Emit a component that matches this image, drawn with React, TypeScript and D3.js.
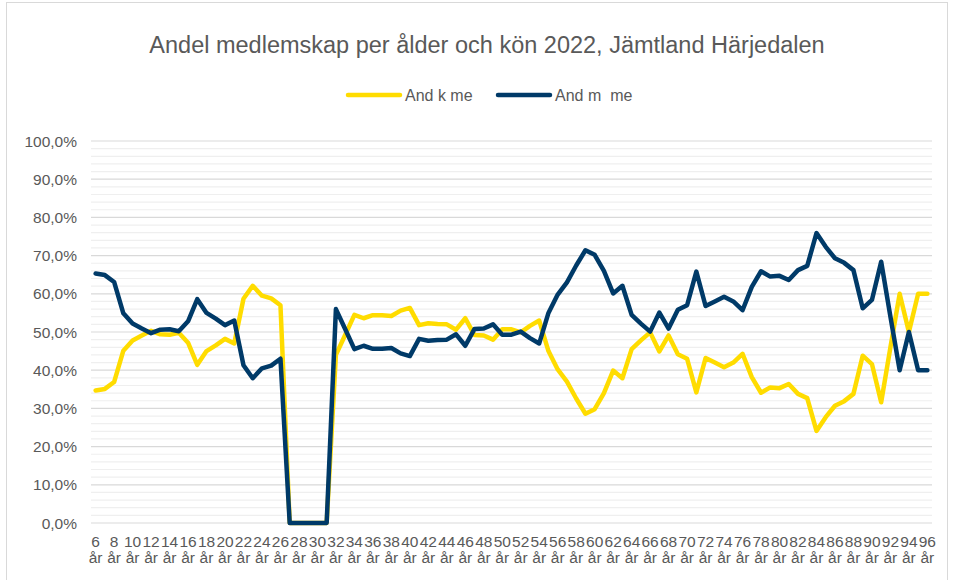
import React from "react";
import * as d3 from "d3";

const ages: number[] = d3.range(6, 97);

const women: number[] = [
  34.7, 35.1, 36.9, 45.1, 47.8, 49.1, 50.3, 49.4, 49.3, 49.8,
  47.2, 41.4, 45.0, 46.5, 48.2, 47.0, 58.7, 62.1, 59.5, 58.8,
  57.0, 0, 0, 0, 0, 0, 44.0, 49.2, 54.5, 53.6,
  54.4, 54.4, 54.2, 55.6, 56.3, 51.8, 52.3, 52.1, 52.0, 50.6,
  53.6, 49.2, 49.1, 48.0, 50.7, 50.7, 49.9, 51.6, 53.0, 45.0,
  40.2, 37.0, 32.6, 28.6, 29.8, 34.0, 39.9, 37.9, 45.5, 47.8,
  49.9, 44.9, 49.1, 44.2, 43.0, 34.2, 43.2, 42.0, 40.8, 42.0,
  44.3, 38.2, 34.1, 35.5, 35.3, 36.4, 33.8, 32.7, 24.1, 27.7,
  30.7, 31.9, 33.8, 43.8, 41.6, 31.6, 46.0, 60.0, 50.0, 60.0,
  60.0,
];

const men: number[] = [
  65.3, 64.9, 63.1, 54.9, 52.2, 50.9, 49.7, 50.6, 50.7, 50.2,
  52.8, 58.6, 55.0, 53.5, 51.8, 53.0, 41.3, 37.9, 40.5, 41.2,
  43.0, 0, 0, 0, 0, 0, 56.0, 50.8, 45.5, 46.4,
  45.6, 45.6, 45.8, 44.4, 43.7, 48.2, 47.7, 47.9, 48.0, 49.4,
  46.4, 50.8, 50.9, 52.0, 49.3, 49.3, 50.1, 48.4, 47.0, 55.0,
  59.8, 63.0, 67.4, 71.4, 70.2, 66.0, 60.1, 62.1, 54.5, 52.2,
  50.1, 55.1, 50.9, 55.8, 57.0, 65.8, 56.8, 58.0, 59.2, 58.0,
  55.7, 61.8, 65.9, 64.5, 64.7, 63.6, 66.2, 67.3, 75.9, 72.3,
  69.3, 68.1, 66.2, 56.2, 58.4, 68.4, 54.0, 40.0, 50.0, 40.0,
  40.0,
];

const seriesNames: string[] = ["And k me", "And m  me"];
const seriesColors: string[] = ["#ffdc00", "#003a68"];
const yTicks: number[] = d3.range(0, 101, 10);
const yMinor: number[] = d3.range(0, 101, 2);

const W = 955;
const H = 580;
const textColor = "#595959";
const font = "'Liberation Sans', Arial, sans-serif";

export default function App() {
  const x = d3
    .scalePoint<number>()
    .domain(ages)
    .range([91, 932])
    .padding(0.5);
  const y = d3.scaleLinear().domain([0, 100]).range([523, 141]);

  const line = d3
    .line<number>()
    .x((_d, i) => x(ages[i]) as number)
    .y((d) => y(d));

  const fmt = (v: number) => v.toFixed(1).replace(".", ",") + "%";

  return (
    <svg
      width={W}
      height={H}
      style={{ position: "absolute", left: 0, top: 0, background: "#fff" }}
      fontFamily={font}
    >
      <rect x={6.5} y={2.5} width={941} height={600} fill="#fff" stroke="#d9d9d9" />
      <text x={487} y={53} textAnchor="middle" fontSize={23.5} fill={textColor}>
        Andel medlemskap per ålder och kön 2022, Jämtland Härjedalen
      </text>

      {/* legend */}
      {seriesNames.map((name, k) => {
        const lx = k === 0 ? 348 : 498;
        return (
          <g key={name}>
            <line
              x1={lx}
              x2={lx + 52}
              y1={95}
              y2={95}
              stroke={seriesColors[k]}
              strokeWidth={4.5}
              strokeLinecap="round"
            />
            <text x={lx + 57} y={100.5} fontSize={16} fill={textColor} style={{ whiteSpace: "pre" }}>
              {name}
            </text>
          </g>
        );
      })}

      {/* gridlines */}
      {yMinor
        .filter((v) => v % 10 !== 0)
        .map((v) => (
          <line key={"m" + v} x1={91} x2={932} y1={y(v)} y2={y(v)} stroke="#efefef" strokeWidth={1.2} />
        ))}
      {yTicks.map((v) => (
        <line key={"g" + v} x1={91} x2={932} y1={y(v)} y2={y(v)} stroke="#d9d9d9" strokeWidth={1.2} />
      ))}

      {/* y labels */}
      {yTicks.map((v) => (
        <text key={"t" + v} x={77} y={y(v) + 5.5} textAnchor="end" fontSize={15.5} fill={textColor}>
          {fmt(v)}
        </text>
      ))}

      {/* x labels */}
      {ages
        .filter((_a, i) => i % 2 === 0)
        .map((a) => (
          <text key={"x" + a} x={x(a)} textAnchor="middle" fontSize={15.5} fill={textColor}>
            <tspan x={x(a)} y={547}>{a}</tspan>
            <tspan x={x(a)} y={563}>år</tspan>
          </text>
        ))}

      {/* series */}
      {[women, men].map((s, k) => (
        <path
          key={"s" + k}
          d={line(s) as string}
          fill="none"
          stroke={seriesColors[k]}
          strokeWidth={4.5}
          strokeLinejoin="round"
          strokeLinecap="round"
        />
      ))}
    </svg>
  );
}
